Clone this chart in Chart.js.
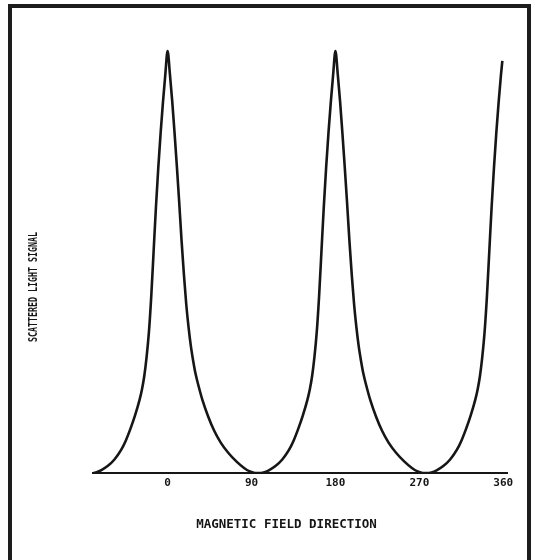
<!DOCTYPE html>
<html>
<head>
<meta charset="utf-8">
<script src="https://cdn.jsdelivr.net/npm/chart.js@4.4.1/dist/chart.umd.min.js"></script>
<style>
  html, body { margin: 0; padding: 0; background: #fff; }
  #wrap { position: relative; width: 536px; height: 560px; overflow: hidden; background: #fff; }
  #frame { position: absolute; left: 8px; top: 4px; width: 523px; height: 620px;
           border: 4px solid #1c1c1c; box-sizing: border-box; }
  canvas { position: absolute; left: 0; top: 0; }
</style>
</head>
<body>
<div id="wrap">
  <div id="frame"></div>
  <canvas id="chart" width="536" height="560"></canvas>
</div>
<script>
// Magnetic field direction (degrees)
const angles = [
  -79.5, -76, -71, -64, -57, -50, -45, -40, -35, -30, -27.5, -25, -22.5, -20, -17.5, -15,
  -12.5, -10, -7.5, -5, -2.5, 0,
  2.5, 5, 7.5, 10, 12.5, 15, 17.5, 20, 22.5, 25, 27.5, 30, 33, 37.5, 43.5, 50, 57, 65,
  74, 82, 88, 93.8,
  100, 104, 109, 116, 123, 130, 135, 140, 145, 150, 152.5, 155, 157.5, 160, 162.5, 165,
  167.5, 170, 172.5, 175, 177.5, 180,
  182.5, 185, 187.5, 190, 192.5, 195, 197.5, 200, 202.5, 205, 207.5, 210, 213, 217.5,
  223.5, 230, 237, 245, 254, 262, 268, 273.8,
  280, 284, 289, 296, 303, 310, 315, 320, 325, 330, 332.5, 335, 337.5, 340, 342.5, 345,
  347.5, 350, 352.5, 355, 357.5, 359
];
// Scattered light signal (relative units)
const signal = [
  0, 0.2, 0.7, 1.7, 3.2, 5.4, 7.6, 10.4, 13.6, 17.4, 19.8, 23.0, 27.5, 33.5, 42.0, 52.5,
  63.0, 72.3, 80.5, 87.8, 94.3, 100,
  94.5, 88.0, 80.5, 72.5, 64.0, 55.0, 47.0, 40.0, 34.5, 30.0, 26.5, 23.5, 20.8, 17.2,
  13.4, 10.0, 7.2, 4.8, 2.7, 1.2, 0.4, 0,
  0, 0.2, 0.7, 1.7, 3.2, 5.4, 7.6, 10.4, 13.6, 17.4, 19.8, 23.0, 27.5, 33.5, 42.0, 52.5,
  63.0, 72.3, 80.5, 87.8, 94.3, 100,
  94.5, 88.0, 80.5, 72.5, 64.0, 55.0, 47.0, 40.0, 34.5, 30.0, 26.5, 23.5, 20.8, 17.2,
  13.4, 10.0, 7.2, 4.8, 2.7, 1.2, 0.4, 0,
  0, 0.2, 0.7, 1.7, 3.2, 5.4, 7.6, 10.4, 13.6, 17.4, 19.8, 23.0, 27.5, 33.5, 42.0, 52.5,
  63.0, 72.3, 80.5, 87.8, 94.3, 97.7
];
const tickAngles = [0, 90, 180, 270, 360];
const xTitle = 'MAGNETIC FIELD DIRECTION';
const yTitle = 'SCATTERED LIGHT SIGNAL';

const ink = '#161616';

// Axis captions in the plotter's blocky lettering
const axisCaptions = {
  id: 'axisCaptions',
  afterDraw(chart) {
    const ctx = chart.ctx;
    ctx.save();
    ctx.fillStyle = ink;
    ctx.textAlign = 'center';
    ctx.textBaseline = 'middle';
    ctx.font = 'bold 12.5px "DejaVu Sans Mono"';
    ctx.fillText(xTitle, 286.5, 525, 183);
    ctx.translate(34, 287);
    ctx.rotate(-Math.PI / 2);
    ctx.font = 'bold 12px "DejaVu Sans Mono"';
    ctx.fillText(yTitle, 0, 0, 110);
    ctx.restore();
  }
};

new Chart(document.getElementById('chart'), {
  type: 'line',
  data: {
    datasets: [{
      data: angles.map((a, i) => ({ x: a, y: signal[i] })),
      borderColor: ink,
      borderWidth: 2.6,
      pointRadius: 0,
      fill: false,
      cubicInterpolationMode: 'monotone'
    }]
  },
  options: {
    responsive: false,
    animation: false,
    layout: { padding: { left: 93, right: 29, top: 30, bottom: 0 } },
    plugins: { legend: { display: false }, tooltip: { enabled: false } },
    scales: {
      x: {
        type: 'linear',
        min: -80,
        max: 364,
        afterBuildTicks: s => { s.ticks = tickAngles.map(v => ({ value: v })); },
        afterFit: s => { s.height = 87; },
        grid: { display: false, drawTicks: false },
        border: { display: true, color: ink, width: 2 },
        ticks: {
          autoSkip: false,
          maxRotation: 0,
          padding: 4,
          color: ink,
          font: { family: 'DejaVu Sans Mono', weight: 'bold', size: 11 }
        }
      },
      y: { display: false, min: 0, max: 105 }
    }
  },
  plugins: [axisCaptions]
});
</script>
</body>
</html>
